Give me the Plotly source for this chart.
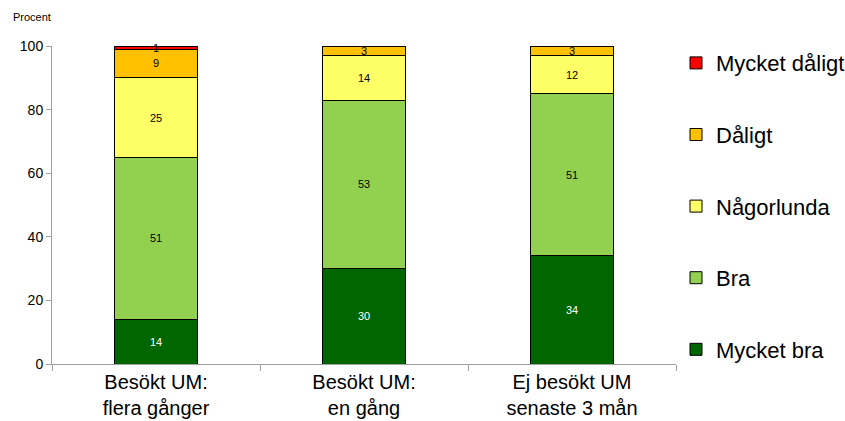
import plotly.graph_objects as go

categories = ["Besökt UM:<br>flera gånger", "Besökt UM:<br>en gång", "Ej besökt UM<br>senaste 3 mån"]
series_names = ["Mycket bra", "Bra", "Någorlunda", "Dåligt", "Mycket dåligt"]
mycket_bra = [14, 30, 34]
bra = [51, 53, 51]
nagorlunda = [25, 14, 12]
daligt = [9, 3, 3]
mycket_daligt = [1, 0.4, 0.4]
values = [mycket_bra, bra, nagorlunda, daligt, mycket_daligt]
colors = ["#006600", "#92D050", "#FFFF66", "#FFC000", "#FF0000"]
text_colors = ["white", "black", "black", "black", "black"]

fig = go.Figure()
n_series = len(series_names)
for i, (name, vals) in enumerate(zip(series_names, values)):
    fig.add_trace(go.Bar(
        x=categories, y=vals, name=name,
        marker=dict(color=colors[i], line=dict(color="black", width=1)),
        legendgroup=name, legendrank=100 - i,
        width=0.4, hoverinfo="name+y",
    ))

# value labels at the centre of each segment
annotations = []
for j, cat in enumerate(categories):
    base = 0
    for k in range(n_series):
        v = values[k][j]
        annotations.append(dict(x=cat, y=base + v / 2, xref="x", yref="y",
                                text=str(int(round(v))), showarrow=False,
                                font=dict(size=11, color=text_colors[k],
                                          family="Liberation Sans, Arial")))
        base += v

annotations.append(dict(text="Procent", xref="paper", yref="paper", x=-0.065, y=1.09,
                        xanchor="left", yanchor="middle", showarrow=False, font=dict(size=11)))

fig.update_layout(
    barmode="stack",
    width=845, height=421,
    margin=dict(l=52, r=165, t=46, b=57),
    paper_bgcolor="white", plot_bgcolor="white",
    font=dict(family="Liberation Sans, Arial", color="black"),
    showlegend=True,
    legend=dict(
        xref="container", yref="container",
        x=0.8, xanchor="left", y=0.9, yanchor="top",
        traceorder="grouped", tracegroupgap=40, maxheight=420,
        font=dict(size=22), itemclick=False, bgcolor="rgba(0,0,0,0)",
    ),
    xaxis=dict(
        showline=True, linecolor="#a0a0a0", linewidth=1, automargin=False,
        ticks="outside", tickson="boundaries", ticklen=6, tickcolor="#a0a0a0",
        tickfont=dict(size=20),
    ),
    yaxis=dict(
        range=[0, 100], dtick=20, showgrid=False, zeroline=False,
        showline=True, linecolor="#a0a0a0", linewidth=1, automargin=False,
        ticks="outside", ticklen=5, tickcolor="#a0a0a0",
        tickfont=dict(size=14),
    ),
    annotations=annotations,
)

fig.write_html("out.html")
